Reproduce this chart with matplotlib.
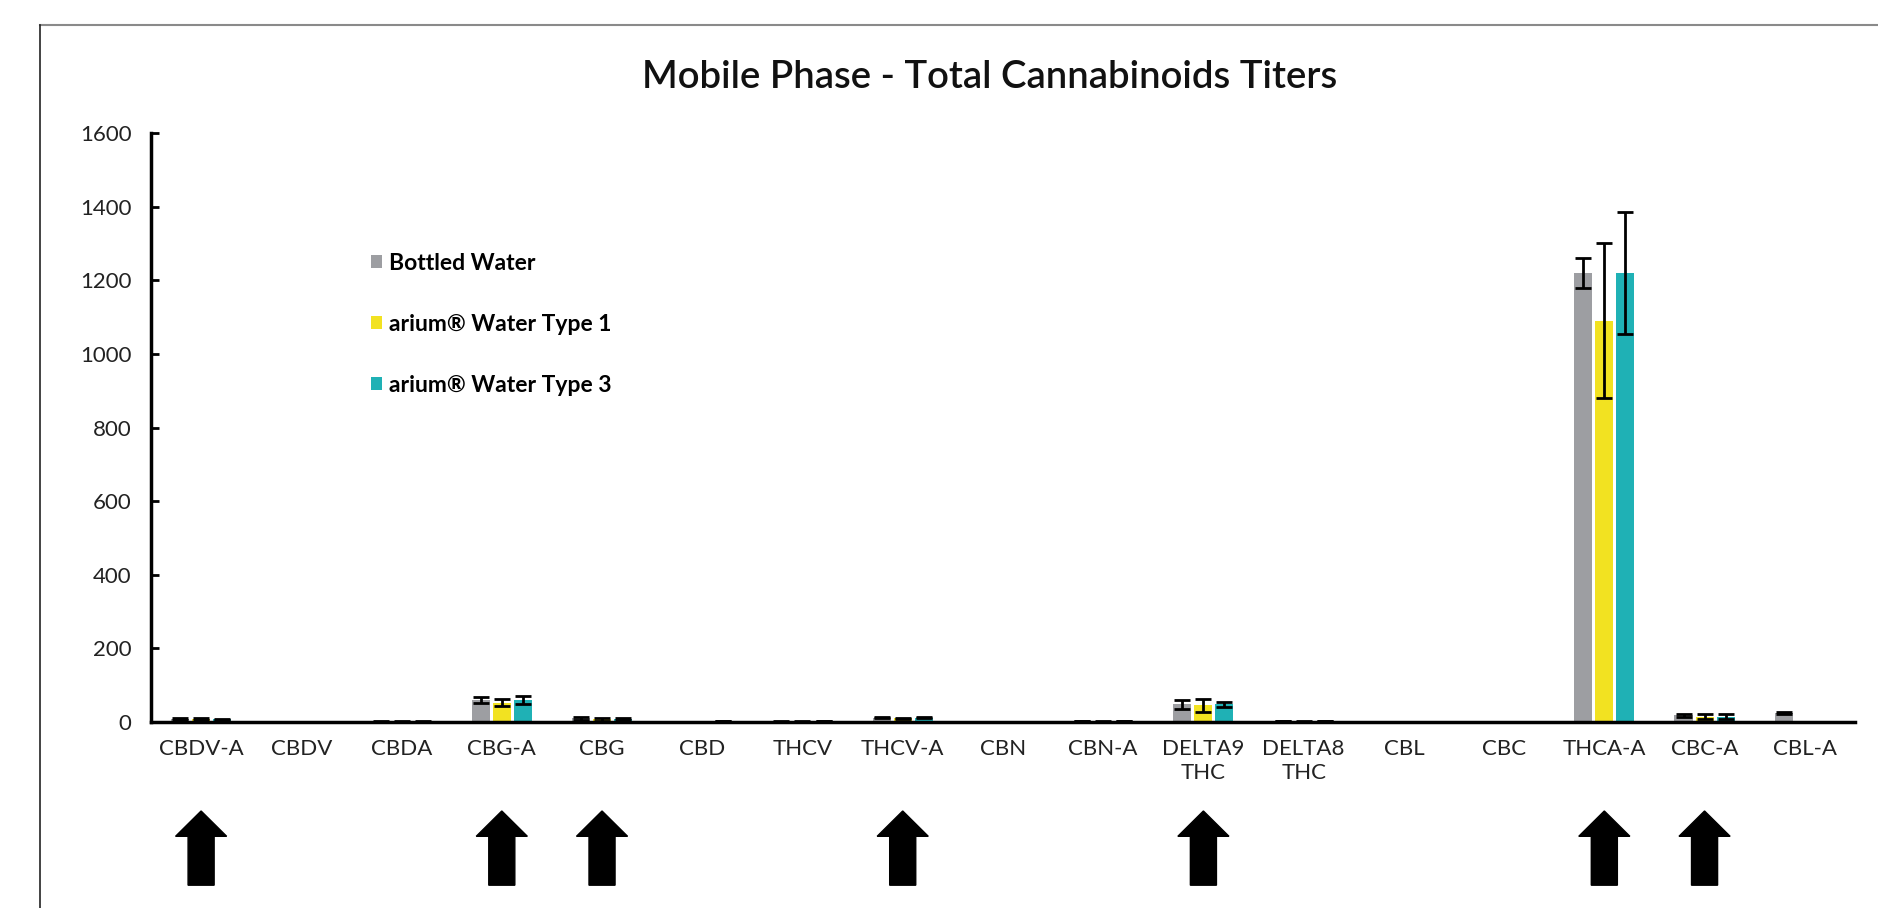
import numpy as np
import matplotlib
matplotlib.use("Agg")
import matplotlib.pyplot as plt
from matplotlib.patches import FancyArrow
from matplotlib.lines import Line2D
import matplotlib.transforms as mtransforms

plt.rcParams["font.family"] = ["Lato", "DejaVu Sans"]

categories = ["CBDV-A", "CBDV", "CBDA", "CBG-A", "CBG", "CBD", "THCV", "THCV-A",
              "CBN", "CBN-A", "DELTA9\nTHC", "DELTA8\nTHC", "CBL", "CBC",
              "THCA-A", "CBC-A", "CBL-A"]
series = ["Bottled Water", "arium® Water Type 1", "arium® Water Type 3"]

bottled = [9, 0, 2, 60, 10, 1, 2, 12, 0, 3, 48, 3, 0, 0, 1220, 19, 24]
bottled_err = [3, 0, 1, 9, 4, 0, 1, 2, 0, 1, 13, 1, 0, 0, 40, 4, 2]
type1 = [8, 0, 2, 53, 8, 1, 1, 10, 0, 2, 45, 1, 0, 0, 1090, 14, 0]
type1_err = [3, 0, 1, 9, 4, 0, 1, 2, 0, 1, 18, 1, 0, 0, 210, 7, 0]
type3 = [7, 0, 2, 60, 8, 3, 3, 12, 0, 3, 48, 3, 0, 0, 1220, 15, 0]
type3_err = [2, 0, 1, 10, 2, 0, 1, 2, 0, 1, 7, 1, 0, 0, 165, 7, 0]

# categories marked with an arrow underneath
highlighted = ["CBDV-A", "CBG-A", "CBG", "THCV-A", "DELTA9\nTHC", "THCA-A", "CBC-A"]

colors = ["#9d9ea2", "#f2e221", "#1fb1b5"]
txt = "#222222"

fig = plt.figure(figsize=(18.78, 9.08), dpi=100)
ax = fig.add_axes([0.0804, 0.2048, 0.9073, 0.6487])

# outer frame (only top and left visible)
fig.add_artist(Line2D([40 / 1878, 1.0], [1 - 25 / 908, 1 - 25 / 908],
                      transform=fig.transFigure, color="#8a8a8a", lw=1.5))
fig.add_artist(Line2D([40 / 1878, 40 / 1878], [0, 1 - 25 / 908],
                      transform=fig.transFigure, color="#222222", lw=1.2))

x = np.arange(len(categories))
w = 0.18
offsets = [-0.21, 0, 0.21]
data = [(bottled, bottled_err), (type1, type1_err), (type3, type3_err)]
for (vals, errs), off, c, name in zip(data, offsets, colors, series):
    ax.bar(x + off, vals, w, color=c, label=name, zorder=2)
    ax.errorbar(x + off, vals, yerr=errs, fmt="none", ecolor="black",
                elinewidth=2, capsize=6, capthick=2, zorder=3)

ax.set_xlim(-0.5, len(categories) - 0.5)
ax.set_ylim(0, 1600)
ax.set_yticks(range(0, 1601, 200))
ax.set_xticks(x)
ax.set_xticklabels(categories, fontsize=16, color=txt, linespacing=1.25)
ax.tick_params(axis="x", length=0, pad=12)
ax.tick_params(axis="y", direction="in", length=6, width=2, pad=14,
               labelsize=16, labelcolor=txt)
for s in ["top", "right"]:
    ax.spines[s].set_visible(False)
ax.spines["left"].set_linewidth(2.5)
ax.spines["bottom"].set_linewidth(2.5)

fig.text(0.527, 1 - 78 / 908, "Mobile Phase - Total Cannabinoids Titers",
         ha="center", va="center", fontsize=27.5, fontweight="semibold",
         color="#111111")

leg = ax.legend(loc="upper left", bbox_to_anchor=(0.129, 0.797), frameon=False,
                prop={"size": 16.5, "weight": "bold"}, handlelength=0.5,
                handleheight=0.5, handletextpad=0.3, labelspacing=1.75,
                borderaxespad=0, borderpad=0)

# arrows below highlighted categories
trans = mtransforms.blended_transform_factory(ax.transData, ax.transAxes)
for name in highlighted:
    i = categories.index(name)
    arr = FancyArrow(i, -0.277, 0, 0.126, width=0.26, head_width=0.51,
                     head_length=0.043, length_includes_head=True,
                     color="black", transform=trans, clip_on=False)
    ax.add_artist(arr)

fig.savefig("out.png", dpi=100)
